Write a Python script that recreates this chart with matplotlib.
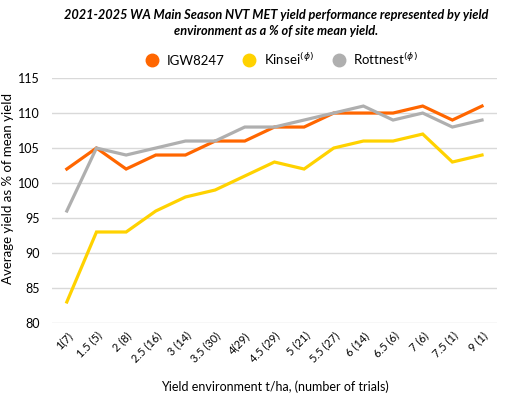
import matplotlib
matplotlib.use("Agg")
import matplotlib.pyplot as plt

plt.rcParams['font.family'] = ['Lato', 'DejaVu Sans']

categories = ["1(7)", "1.5 (5)", "2 (8)", "2.5 (16)", "3 (14)", "3.5 (30)", "4(29)",
              "4.5 (29)", "5 (21)", "5.5 (27)", "6 (14)", "6.5 (6)", "7 (6)", "7.5 (1)", "9 (1)"]
igw8247 = [102, 105, 102, 104, 104, 106, 106, 108, 108, 110, 110, 110, 111, 109, 111]
kinsei = [83, 93, 93, 96, 98, 99, 101, 103, 102, 105, 106, 106, 107, 103, 104]
rottnest = [96, 105, 104, 105, 106, 106, 108, 108, 109, 110, 111, 109, 110, 108, 109]

series_names = ["IGW8247", r"Kinsei$^{(\phi)}$", r"Rottnest$^{(\phi)}$"]
colors = ["#FF6600", "#FFD200", "#AFAFAF"]

fig = plt.figure(figsize=(5.23, 4.13), dpi=100)
ax = fig.add_axes([0.0994, 0.218, 0.8506, 0.593])

x = range(len(categories))
for vals, name, c in zip([igw8247, kinsei, rottnest], series_names, colors):
    ax.plot(x, vals, color=c, lw=2.3, label=name, solid_joinstyle="miter")

ax.set_xlim(-0.5, len(categories) - 0.5)
ax.set_ylim(80, 115)
ax.set_yticks(range(80, 116, 5))
ax.set_xticks(list(x))
ax.set_xticklabels(categories, rotation=45, ha="right", rotation_mode="anchor", fontsize=8)
ax.tick_params(axis="y", labelsize=9, length=0, pad=9)
ax.tick_params(axis="x", length=0, pad=5)
ax.grid(axis="y", color="#D9D9D9", lw=1)
ax.set_axisbelow(True)
for s in ax.spines.values():
    s.set_visible(False)

ax.set_ylabel("Average yield as % of mean yield", fontsize=9.5)
ax.yaxis.set_label_coords(-0.085, 0.55)
ax.set_xlabel("Yield environment t/ha, (number of trials)", fontsize=9, labelpad=12)

fig.text(0.528, 0.977, "2021-2025 WA Main Season NVT MET yield performance represented by yield\nenvironment as a % of site mean yield.",
         ha="center", va="top", fontsize=9.2, fontweight="bold", fontstyle="italic", linespacing=1.4)

leg = fig.legend(*ax.get_legend_handles_labels(), loc="center", bbox_to_anchor=(0.54, 0.858),
                 ncol=3, frameon=False, fontsize=9.5, handlelength=0.8, columnspacing=1.5, handletextpad=0.7)
for h, c in zip(leg.legend_handles, colors):
    h.set_linestyle("none")
    h.set_marker("o")
    h.set_markersize(9)
    h.set_markerfacecolor(c)
    h.set_markeredgecolor(c)

fig.savefig("out.png", dpi=100)
